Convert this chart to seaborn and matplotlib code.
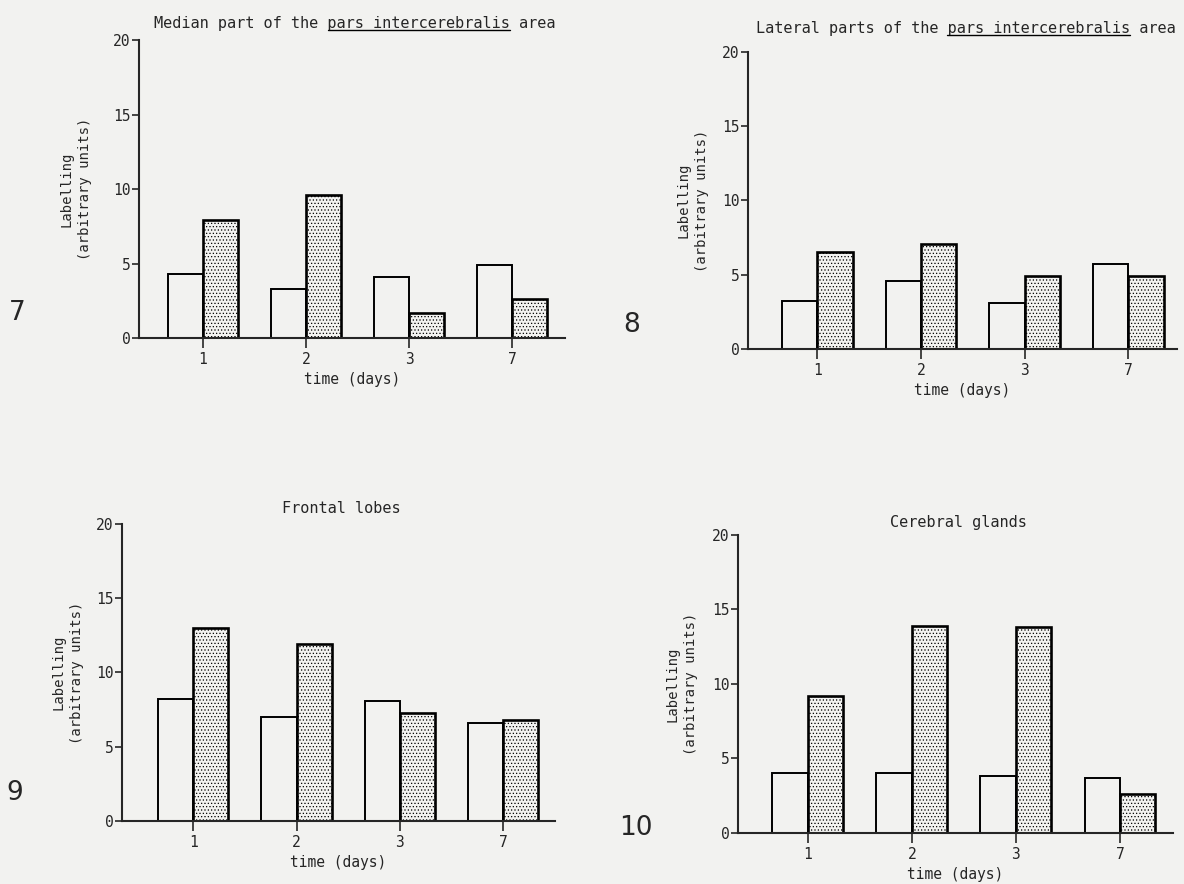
import pandas as pd
import seaborn as sns
import matplotlib.pyplot as plt
from matplotlib.lines import Line2D

days = ["1", "2", "3", "7"]
groups = ["open", "dotted"]

median_open = [4.3, 3.3, 4.1, 4.9]
median_dotted = [7.9, 9.6, 1.7, 2.6]
lateral_open = [3.2, 4.6, 3.1, 5.7]
lateral_dotted = [6.5, 7.1, 4.9, 4.9]
frontal_open = [8.2, 7.0, 8.1, 6.6]
frontal_dotted = [13.0, 11.9, 7.3, 6.8]
glands_open = [4.0, 4.0, 3.8, 3.7]
glands_dotted = [9.2, 13.9, 13.8, 2.6]

paper = "#f2f2f0"

sns.set_style("ticks")
plt.rcParams["font.family"] = ["DejaVu Sans Mono", "DejaVu Sans"]
plt.rcParams["hatch.linewidth"] = 0.5

fig = plt.figure(figsize=(11.84, 8.84), dpi=100, facecolor=paper)

# (number, title prefix, underlined part, suffix, open, dotted, rect, xlim, title gap, ylabel x, number pos)
panels = [
    ("7", "Median part of the ", "pars intercerebralis", " area",
     median_open, median_dotted,
     [0.1174, 0.6176, 0.3598, 0.3371], (-0.62, 3.51), 0.040, -0.11, (17, 313)),
    ("8", "Lateral parts of the ", "pars intercerebralis", " area",
     lateral_open, lateral_dotted,
     [0.6318, 0.6052, 0.3623, 0.3360], (-0.67, 3.47), 0.064, -0.092, (632, 325)),
    ("9", "Frontal lobes", "", "",
     frontal_open, frontal_dotted,
     [0.1030, 0.0713, 0.3657, 0.3360], (-0.69, 3.50), 0.037, -0.088, (15, 793)),
    ("10", "Cerebral glands", "", "",
     glands_open, glands_dotted,
     [0.6233, 0.0577, 0.3674, 0.3371], (-0.67, 3.51), 0.027, -0.092, (636, 828)),
]

W, H = 1184, 884
TFS = 11
underlines = []

for num, pre, under, post, vals_open, vals_dot, rect, xlim, gap, ylx, numpos in panels:
    ax = fig.add_axes(rect)
    ax.set_facecolor(paper)
    df = pd.DataFrame({
        "day": days * 2,
        "group": [groups[0]] * 4 + [groups[1]] * 4,
        "value": vals_open + vals_dot,
    })
    sns.barplot(data=df, x="day", y="value", hue="group", order=days,
                hue_order=groups, palette=[paper, paper], edgecolor="black",
                linewidth=1.4, width=0.68, gap=0, legend=False, ax=ax)
    for p in ax.containers[1]:
        p.set_hatch(".....")
        p.set_linewidth(1.9)

    ax.set_xlim(*xlim)
    ax.set_ylim(0, 20)
    ax.set_yticks([0, 5, 10, 15, 20])
    sns.despine(ax=ax)
    for s in ["left", "bottom"]:
        ax.spines[s].set_linewidth(1.5)
    ax.tick_params(axis="y", direction="out", length=5, width=1.2,
                   labelsize=10.5, pad=1)
    ax.tick_params(axis="x", direction="out", length=7, width=1.2,
                   labelsize=10.5, pad=3)
    ax.set_xlabel("time (days)", fontsize=10.5, labelpad=4)
    ax.set_ylabel("Labelling\n(arbitrary units)", fontsize=10, linespacing=1.4)
    ax.yaxis.set_label_coords(ylx, 0.5)

    title = pre + under + post
    t = ax.text(0.507, 1 + gap, title, transform=ax.transAxes,
                ha="center", va="baseline", fontsize=TFS)
    if under:
        underlines.append((ax, t, pre + under, under))

    fig.text(numpos[0] / W, 1 - numpos[1] / H, num, fontsize=19,
             family="DejaVu Sans", ha="center", va="center")

# underline the term, as in the typed original
fig.canvas.draw()
r = fig.canvas.get_renderer()
for ax, t, upto, word in underlines:
    ext = t.get_window_extent(r)
    tmp = ax.text(0, 0, upto, fontsize=TFS)
    w_upto = tmp.get_window_extent(r).width
    tmp.set_text(word)
    w_word = tmp.get_window_extent(r).width
    tmp.remove()
    x1 = ext.x0 + w_upto
    x0 = x1 - w_word
    ybase = ax.transAxes.transform(t.get_position())[1] - 2
    fig.add_artist(Line2D([x0 / W, x1 / W], [ybase / H, ybase / H],
                          transform=fig.transFigure, color="black", lw=1.0))

fig.savefig("out.png", dpi=100, facecolor=paper)
